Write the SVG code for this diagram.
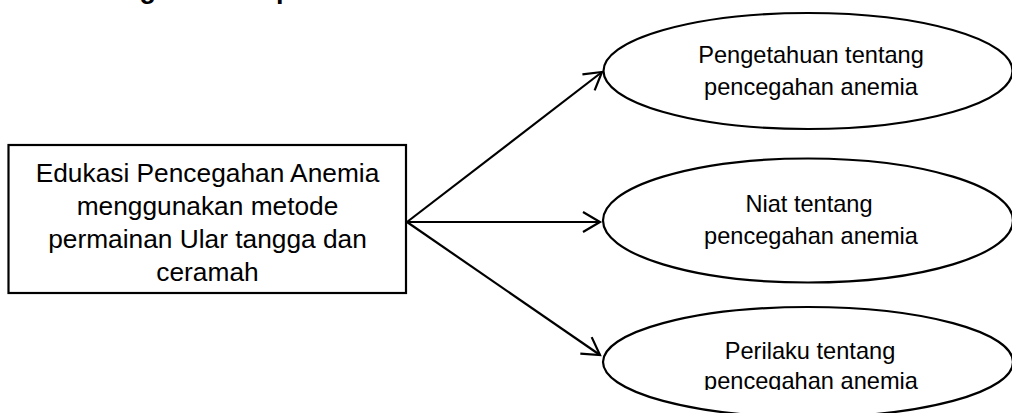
<svg xmlns="http://www.w3.org/2000/svg" width="1012" height="413" viewBox="0 0 1012 413">
<style>
.t{font-family:"Liberation Sans",Arial,sans-serif;fill:#000;text-anchor:middle}
.b{font-size:26.3px}
.e{font-size:23.6px}
.shape{fill:#fff;stroke:#000;stroke-width:2.2}
.conn{stroke:#000;stroke-width:2.2;fill:none}
</style>
<defs>
<marker id="arr" markerUnits="userSpaceOnUse" viewBox="-20 -12 22 24" refX="0" refY="0" markerWidth="22" markerHeight="24" orient="auto" overflow="visible">
<path d="M-17,-10 L0,0 L-17,10" fill="none" stroke="#000" stroke-width="2.2" stroke-linejoin="miter"/>
</marker>
<clipPath id="c3"><rect x="590" y="290" width="430" height="100"/></clipPath>
</defs>
<rect width="1012" height="413" fill="#fff"/>
<text x="63" y="-1.6" font-family="Liberation Sans,Arial,sans-serif" font-weight="bold" font-size="27">Kerangka Konsep</text>
<g id="connectors">
<line class="conn" x1="407" y1="222" x2="602" y2="72" marker-end="url(#arr)"/>
<line class="conn" x1="407" y1="222" x2="600" y2="222" marker-end="url(#arr)"/>
<line class="conn" x1="407" y1="222" x2="600" y2="355" marker-end="url(#arr)"/>
</g>
<g id="source">
<rect class="shape" x="8.5" y="145" width="397.5" height="148"/>
<text class="t b" x="207.5" y="182">Edukasi Pencegahan Anemia</text>
<text class="t b" x="207.5" y="215">menggunakan metode</text>
<text class="t b" x="207.5" y="248">permainan Ular tangga dan</text>
<text class="t b" x="207.5" y="281">ceramah</text>
</g>
<g id="pengetahuan">
<ellipse class="shape" cx="808" cy="71" rx="204.5" ry="58"/>
<text class="t e" x="811" y="63">Pengetahuan tentang</text>
<text class="t e" x="811" y="95">pencegahan anemia</text>
</g>
<g id="niat">
<ellipse class="shape" cx="808" cy="220.5" rx="205" ry="62"/>
<text class="t e" x="809" y="212">Niat tentang</text>
<text class="t e" x="811" y="244">pencegahan anemia</text>
</g>
<g id="perilaku">
<ellipse class="shape" cx="808" cy="362" rx="205" ry="55"/>
<g clip-path="url(#c3)">
<text class="t e" x="810" y="359">Perilaku tentang</text>
<text class="t e" x="811" y="389">pencegahan anemia</text>
</g>
</g>
</svg>
